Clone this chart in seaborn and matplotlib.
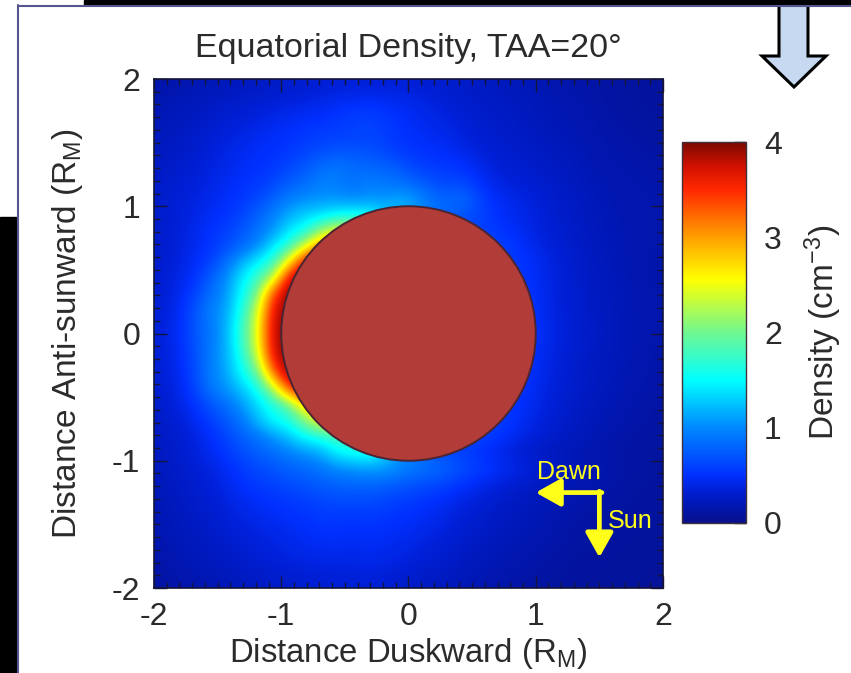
import numpy as np
import pandas as pd
import matplotlib
matplotlib.use("Agg")
import matplotlib.pyplot as plt
import seaborn as sns
from matplotlib.colors import LinearSegmentedColormap
from matplotlib.patches import Circle, Polygon, Rectangle

# cell centres of the density map, distance in planet radii
x_centres = [-1.9375 + 0.125 * i for i in range(32)]
y_centres = [1.9375 - 0.125 * i for i in range(32)]

# density, top row first (inside the disc is hidden)
density = [
    [.15,.16,.18,.2,.22,.24,.26,.28,.3,.32,.34,.35,.36,.36,.36,.36,.34,.32,.3,.28,.26,.24,.22,.2,.18,.16,.14,.13,.12,.11,.1,.1],
    [.18,.2,.22,.25,.28,.3,.33,.35,.38,.4,.42,.46,.48,.5,.48,.45,.42,.38,.34,.3,.28,.26,.24,.22,.2,.18,.16,.14,.12,.11,.1,.1],
    [.2,.22,.25,.28,.32,.35,.38,.42,.45,.48,.5,.55,.58,.6,.55,.5,.45,.42,.38,.34,.3,.28,.26,.24,.2,.18,.17,.15,.13,.12,.11,.1],
    [.22,.25,.28,.32,.36,.4,.44,.48,.5,.55,.58,.58,.6,.62,.58,.52,.48,.45,.42,.36,.32,.3,.27,.25,.22,.2,.18,.16,.14,.13,.12,.11],
    [.24,.27,.3,.35,.4,.44,.48,.5,.55,.6,.65,.7,.7,.68,.62,.55,.52,.5,.46,.42,.36,.32,.3,.27,.25,.22,.2,.17,.15,.14,.13,.12],
    [.26,.3,.33,.38,.42,.47,.5,.55,.62,.72,.85,.9,.85,.8,.8,.72,.6,.55,.55,.5,.42,.36,.32,.3,.27,.24,.22,.18,.16,.15,.14,.13],
    [.28,.32,.35,.4,.45,.5,.54,.62,.75,.85,.95,.95,.85,.95,.9,.85,.78,.68,.62,.62,.5,.4,.36,.32,.3,.26,.23,.2,.17,.16,.15,.14],
    [.3,.34,.38,.42,.48,.54,.62,.78,.95,1.0,1.05,1.05,1.0,1.05,1.05,1.15,1.05,.85,.8,.85,.6,.48,.42,.38,.33,.28,.25,.22,.18,.17,.16,.15],
    [.3,.35,.4,.46,.52,.6,.78,.95,1.15,1.3,1.35,1.45,1.5,1.5,1.3,1.2,1.1,.9,.8,.7,.62,.5,.45,.4,.34,.3,.26,.22,.19,.17,.16,.15],
    [.3,.36,.42,.5,.58,.7,.88,1.05,1.4,1.55,2.1,2.5,2.5,2.0,1.5,1.0,.8,.7,.65,.6,.6,.55,.48,.42,.36,.31,.27,.23,.2,.18,.16,.15],
    [.3,.36,.44,.52,.65,.82,1.0,1.4,1.7,2.4,3.2,3.2,2.5,1.5,1.0,.8,.7,.6,.6,.6,.6,.6,.55,.46,.38,.33,.28,.24,.2,.18,.16,.15],
    [.3,.38,.46,.58,.85,1.15,1.45,1.7,2.6,3.8,3.9,3.0,2.0,1.2,.8,.7,.6,.6,.6,.6,.6,.6,.55,.5,.42,.35,.3,.25,.21,.18,.16,.14],
    [.32,.4,.5,.75,1.0,1.4,1.75,2.3,3.8,4.0,3.9,3.0,2.0,1.2,.8,.7,.6,.6,.6,.6,.6,.6,.55,.52,.42,.36,.3,.26,.22,.19,.16,.14],
    [.33,.42,.58,.85,1.05,1.5,2.0,3.4,4.0,4.0,3.5,2.5,1.5,1.0,.8,.7,.6,.6,.6,.6,.6,.6,.55,.52,.44,.36,.31,.26,.22,.19,.17,.15],
    [.35,.44,.68,.95,1.1,1.6,2.35,3.7,4.0,4.0,3.5,2.5,1.5,1.0,.8,.7,.6,.6,.6,.6,.6,.6,.55,.54,.44,.36,.31,.26,.23,.19,.17,.15],
    [.36,.46,.7,.9,1.15,1.7,2.45,3.8,4.0,4.0,3.5,2.5,1.5,1.0,.8,.7,.6,.6,.6,.6,.6,.6,.55,.54,.45,.37,.32,.27,.23,.2,.17,.15],
    [.36,.46,.68,.9,1.15,1.7,2.45,3.8,4.0,4.0,3.5,2.5,1.5,1.0,.8,.7,.6,.6,.6,.6,.6,.6,.55,.54,.45,.37,.32,.27,.23,.2,.17,.15],
    [.35,.44,.66,.92,1.15,1.6,2.3,3.7,4.0,4.0,3.5,2.5,1.5,1.0,.8,.7,.6,.6,.6,.6,.6,.6,.55,.52,.43,.36,.3,.26,.22,.19,.16,.14],
    [.34,.44,.62,.95,1.1,1.5,1.9,3.2,4.0,4.0,3.5,2.5,1.5,1.0,.8,.7,.6,.6,.6,.6,.6,.6,.55,.5,.42,.35,.3,.25,.22,.18,.16,.14],
    [.32,.42,.58,.9,1.05,1.25,1.55,2.2,3.4,3.8,3.6,3.0,2.0,1.2,.8,.7,.6,.6,.6,.6,.6,.6,.55,.5,.4,.34,.29,.25,.21,.18,.15,.13],
    [.3,.38,.5,.68,.85,1.05,1.35,1.6,1.9,2.8,2.8,2.6,1.8,1.1,.8,.7,.6,.6,.6,.6,.6,.6,.52,.46,.38,.32,.27,.23,.19,.16,.14,.12],
    [.28,.34,.44,.56,.72,.9,1.2,1.5,1.6,2.05,2.6,2.6,2.4,1.5,1.0,.8,.7,.6,.6,.6,.6,.6,.52,.43,.36,.3,.25,.21,.17,.15,.13,.12],
    [.26,.31,.38,.48,.6,.76,.88,1.05,1.25,1.5,1.6,1.8,1.8,1.9,1.5,1.0,.8,.7,.65,.6,.6,.53,.45,.38,.32,.27,.23,.19,.16,.14,.12,.11],
    [.25,.3,.36,.44,.54,.66,.76,.85,.95,1.05,1.15,1.45,1.55,1.6,1.3,1.0,.85,.72,.62,.58,.5,.43,.36,.3,.25,.21,.18,.15,.13,.12,.11,.1],
    [.24,.28,.33,.38,.46,.55,.64,.7,.78,.82,.9,1.0,1.05,1.1,1.1,1.0,.92,.85,.78,.66,.58,.5,.43,.37,.3,.25,.21,.18,.15,.13,.12,.1],
    [.22,.26,.3,.35,.42,.5,.56,.6,.65,.7,.75,.78,.8,.8,.78,.72,.68,.64,.58,.5,.44,.38,.32,.28,.24,.2,.17,.15,.13,.12,.1,.1],
    [.2,.24,.28,.32,.38,.44,.48,.52,.55,.58,.62,.66,.65,.66,.62,.58,.55,.5,.45,.4,.35,.3,.26,.22,.2,.17,.15,.13,.12,.11,.1,.09],
    [.19,.22,.26,.3,.35,.4,.43,.46,.5,.52,.55,.56,.54,.56,.54,.5,.48,.44,.4,.34,.3,.26,.23,.2,.18,.15,.13,.12,.11,.1,.09,.09],
    [.18,.21,.24,.27,.32,.35,.38,.42,.44,.47,.5,.5,.48,.5,.48,.46,.44,.4,.36,.3,.27,.23,.2,.18,.16,.14,.12,.11,.1,.09,.09,.08],
    [.16,.19,.22,.25,.28,.32,.35,.38,.42,.44,.44,.46,.44,.46,.44,.42,.38,.35,.32,.27,.24,.2,.18,.16,.14,.13,.11,.1,.09,.09,.08,.08],
    [.14,.17,.2,.22,.25,.28,.31,.34,.36,.38,.4,.4,.4,.42,.4,.38,.34,.3,.28,.24,.2,.18,.16,.14,.13,.11,.1,.09,.09,.08,.08,.08],
    [.12,.14,.16,.18,.2,.24,.26,.28,.3,.32,.33,.34,.34,.34,.33,.3,.28,.26,.23,.2,.18,.15,.14,.12,.11,.1,.09,.09,.08,.08,.08,.07],
]

axis_ticks = [-2, -1, 0, 1, 2]
cbar_ticks = [0, 1, 2, 3, 4]

# colour table
cmap_values = [0, .2, .35, .5, 1, 1.5, 2, 2.56, 3, 3.5, 3.75, 4]
cmap_colors = ["#08108a", "#0018b8", "#0020d8", "#0030ff", "#0088ff", "#00ffff",
               "#70f890", "#ffff00", "#ffa000", "#ff2800", "#d01000", "#7a0a00"]

W, H = 851, 673

sns.set_theme(style="ticks")
plt.rcParams["font.family"] = ["Liberation Sans", "DejaVu Sans"]
plt.rcParams["mathtext.fontset"] = "custom"
plt.rcParams["mathtext.rm"] = "Liberation Sans"
plt.rcParams["mathtext.default"] = "rm"

TXT = "#2b2b2b"
TICK = "#14143c"
YEL = "#ffff1a"


def cell_x(v):
    return (np.asarray(v, dtype=float) + 2) * 8


def cell_y(v):
    # heatmap rows run downward
    return (2 - np.asarray(v, dtype=float)) * 8


def box(x0, y0, x1, y1):
    # pixel box, top-left origin, to figure fractions
    return [x0 / W, 1 - y1 / H, (x1 - x0) / W, (y1 - y0) / H]


cmap = LinearSegmentedColormap.from_list(
    "density", [(v / 4, c) for v, c in zip(cmap_values, cmap_colors)], N=512)

fig = plt.figure(figsize=(W / 100, H / 100), dpi=100, facecolor="white")

# slide background behind the figure
fig.patches.append(Rectangle((0, 0), 17 / W, 1 - 217 / H, transform=fig.transFigure, color="black"))
fig.patches.append(Rectangle((84 / W, 1 - 5 / H), 1 - 84 / W, 5 / H, transform=fig.transFigure, color="black"))
fig.add_artist(plt.Line2D([17.5 / W, 17.5 / W], [0, 1 - 5 / H], color="#55558f", lw=1.5))
fig.add_artist(plt.Line2D([17.5 / W, 1], [1 - 5.5 / H, 1 - 5.5 / H], color="#55558f", lw=1.5))

ax = fig.add_axes(box(154, 79, 663, 588))
cax = fig.add_axes(box(682, 142, 746, 523))

df = pd.DataFrame(np.array(density), index=y_centres, columns=x_centres)
sns.heatmap(df, ax=ax, cbar_ax=cax, cmap=cmap, vmin=0, vmax=4,
            xticklabels=False, yticklabels=False)
# same cells, smoothed the way the original image is
ax.imshow(df.values, cmap=cmap, vmin=0, vmax=4, extent=(0, 32, 32, 0),
          interpolation="bicubic", aspect="auto", zorder=2)
ax.set_xlim(0, 32)
ax.set_ylim(32, 0)
ax.set_axisbelow(False)

ax.add_patch(Circle((cell_x(0), cell_y(0)), 8, facecolor="#b23c38",
                    edgecolor="#4a2433", lw=1.4, zorder=3))

minor = np.arange(-2, 2.01, 0.1)
ax.set_xticks(cell_x(axis_ticks), [str(t) for t in axis_ticks])
ax.set_yticks(cell_y(axis_ticks), [str(t) for t in axis_ticks])
ax.set_xticks(cell_x(minor), minor=True)
ax.set_yticks(cell_y(minor), minor=True)
ax.tick_params(which="both", direction="in", top=True, right=True, bottom=True, left=True,
               color=TICK, width=1.0)
ax.tick_params(which="major", length=9, labelsize=23, labelcolor=TXT, pad=10)
ax.tick_params(which="minor", length=4.5)
for s in ax.spines.values():
    s.set_visible(True)
    s.set_color(TICK)
    s.set_linewidth(1.2)
    s.set_zorder(6)

ax.set_title("Equatorial Density, TAA=20\u00b0", fontsize=24.5, color=TXT, pad=16)
ax.set_xlabel("Distance Duskward (R$_{M}$)", fontsize=23.7, color=TXT)
ax.set_ylabel("Distance Anti-sunward (R$_{M}$)", fontsize=24, color=TXT)
ax.xaxis.set_label_coords(0.5, -0.095)
ax.yaxis.set_label_coords(-0.135, 0.5)

# direction marker
arrow_style = dict(arrowstyle="-|>,head_length=0.75,head_width=0.42", color=YEL, lw=3.4,
                   shrinkA=0, shrinkB=0, mutation_scale=20)
ax.annotate("", xy=(cell_x(1.0), cell_y(-1.25)), xytext=(cell_x(1.52), cell_y(-1.25)),
            arrowprops=arrow_style, zorder=7)
ax.annotate("", xy=(cell_x(1.5), cell_y(-1.76)), xytext=(cell_x(1.5), cell_y(-1.24)),
            arrowprops=arrow_style, zorder=7)
ax.text(cell_x(1.26), cell_y(-1.09), "Dawn", color=YEL, fontsize=18, ha="center", va="center", zorder=7)
ax.text(cell_x(1.74), cell_y(-1.47), "Sun", color=YEL, fontsize=18, ha="center", va="center", zorder=7)

cbar = ax.collections[0].colorbar
cbar.set_ticks(cbar_ticks)
cbar.set_ticklabels([str(t) for t in cbar_ticks])
cax.set_yticks(np.arange(0, 4.01, 0.1), minor=True)
cax.tick_params(which="both", direction="in", right=True, left=False, color="#222233", width=1.0)
cax.tick_params(which="major", length=9, labelsize=23, labelcolor=TXT, pad=13)
cax.tick_params(which="minor", length=4.5)
cbar.outline.set_visible(True)
cbar.outline.set_edgecolor("#40303a")
cbar.outline.set_linewidth(1.0)
cbar.set_label("Density (cm$^{-3}$)", fontsize=24, color=TXT, labelpad=15)

# block arrow in the slide, drawn over everything
fig.add_artist(Polygon([(x / W, 1 - y / H) for x, y in
                        [(779, -3), (808, -3), (808, 56), (826, 56), (794, 87), (762, 56), (779, 56)]],
                       closed=True, transform=fig.transFigure, facecolor="#c6d9f0",
                       edgecolor="black", lw=2.2))

fig.savefig("out.png", dpi=100, facecolor="white")
